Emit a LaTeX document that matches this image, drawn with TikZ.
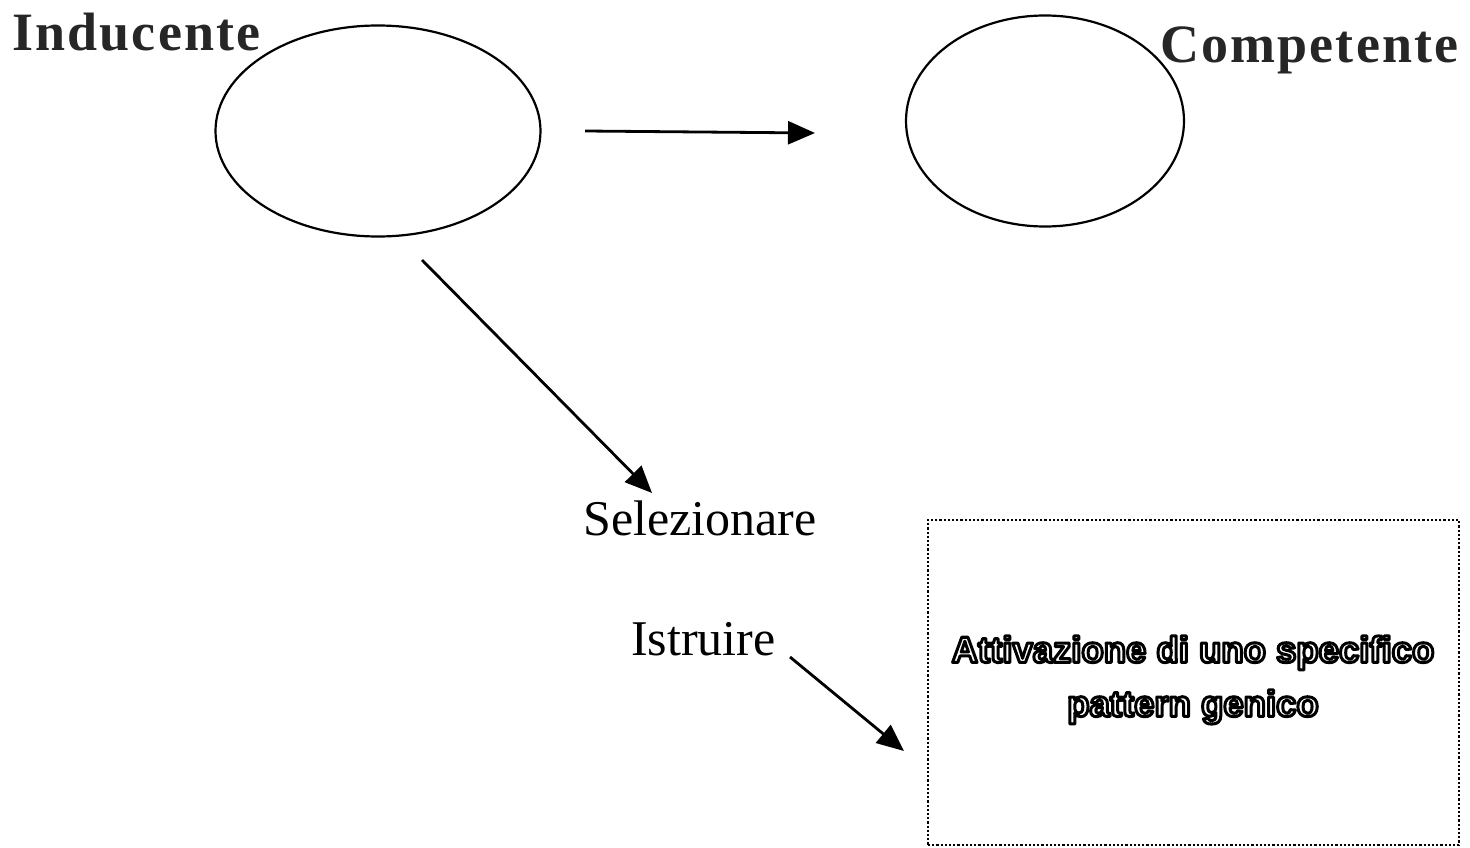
\documentclass[tikz,border=0pt]{standalone}
\usepackage{fontspec}
\setmainfont{Liberation Serif}
\newfontfamily\boxfont{Liberation Sans}
\usetikzlibrary{arrows.meta,shapes.geometric}
\tikzset{
  oval/.style={draw, line width=2.2pt, ellipse, inner sep=0pt},
  arr/.style={line width=2.8pt, -{Triangle[length=27pt,width=23pt]}},
  title/.style={anchor=base west, inner sep=0pt, font=\fontsize{54}{60}\selectfont\bfseries, text=black!85},
  lbl/.style={anchor=base west, inner sep=0pt, font=\fontsize{50}{56}\selectfont},
  dotbox/.style={draw, line width=2.2pt, dotted, minimum width=531pt, minimum height=325pt, inner sep=0pt},
}
\newcommand{\outlined}[1]{\special{pdf:literal direct q 1 g 0 G 2 Tr 3 w 1 j}#1\special{pdf:literal direct Q}}
\begin{document}
\begin{tikzpicture}[x=1pt,y=-1pt]
\useasboundingbox (0,0) rectangle (1470,848);
\node[oval, minimum width=325pt, minimum height=211pt] (ind) at (378,131) {};
\node[oval, minimum width=278pt, minimum height=211pt] (comp) at (1045,121) {};
\node[title] (tind) at (12,51) {\addfontfeature{LetterSpace=4}Inducente};
\node[title] (tcomp) at (1160,63) {\addfontfeature{LetterSpace=4}Competente};
\node[lbl] (sel) at (583,535) {Selezionare};
\node[lbl] (ist) at (631,655) {Istruire};
\node[dotbox] (box) at (1193.5,682.5) {};
\node[align=center, font=\boxfont\bfseries\fontsize{36.5}{54}\selectfont] (btxt) at (1193,680)
  {\outlined{Attivazione di uno specifico}\\\outlined{pattern genico}};
\coordinate (a1s) at (585,131);
\coordinate (a1e) at (815,133);
\coordinate (a2s) at (422,260);
\coordinate (a2e) at (652,493);
\coordinate (a3s) at (790,657);
\coordinate (a3e) at (904,751);
\draw[arr] (a1s) -- (a1e);
\draw[arr] (a2s) -- (a2e);
\draw[arr] (a3s) -- (a3e);
\end{tikzpicture}
\end{document}
